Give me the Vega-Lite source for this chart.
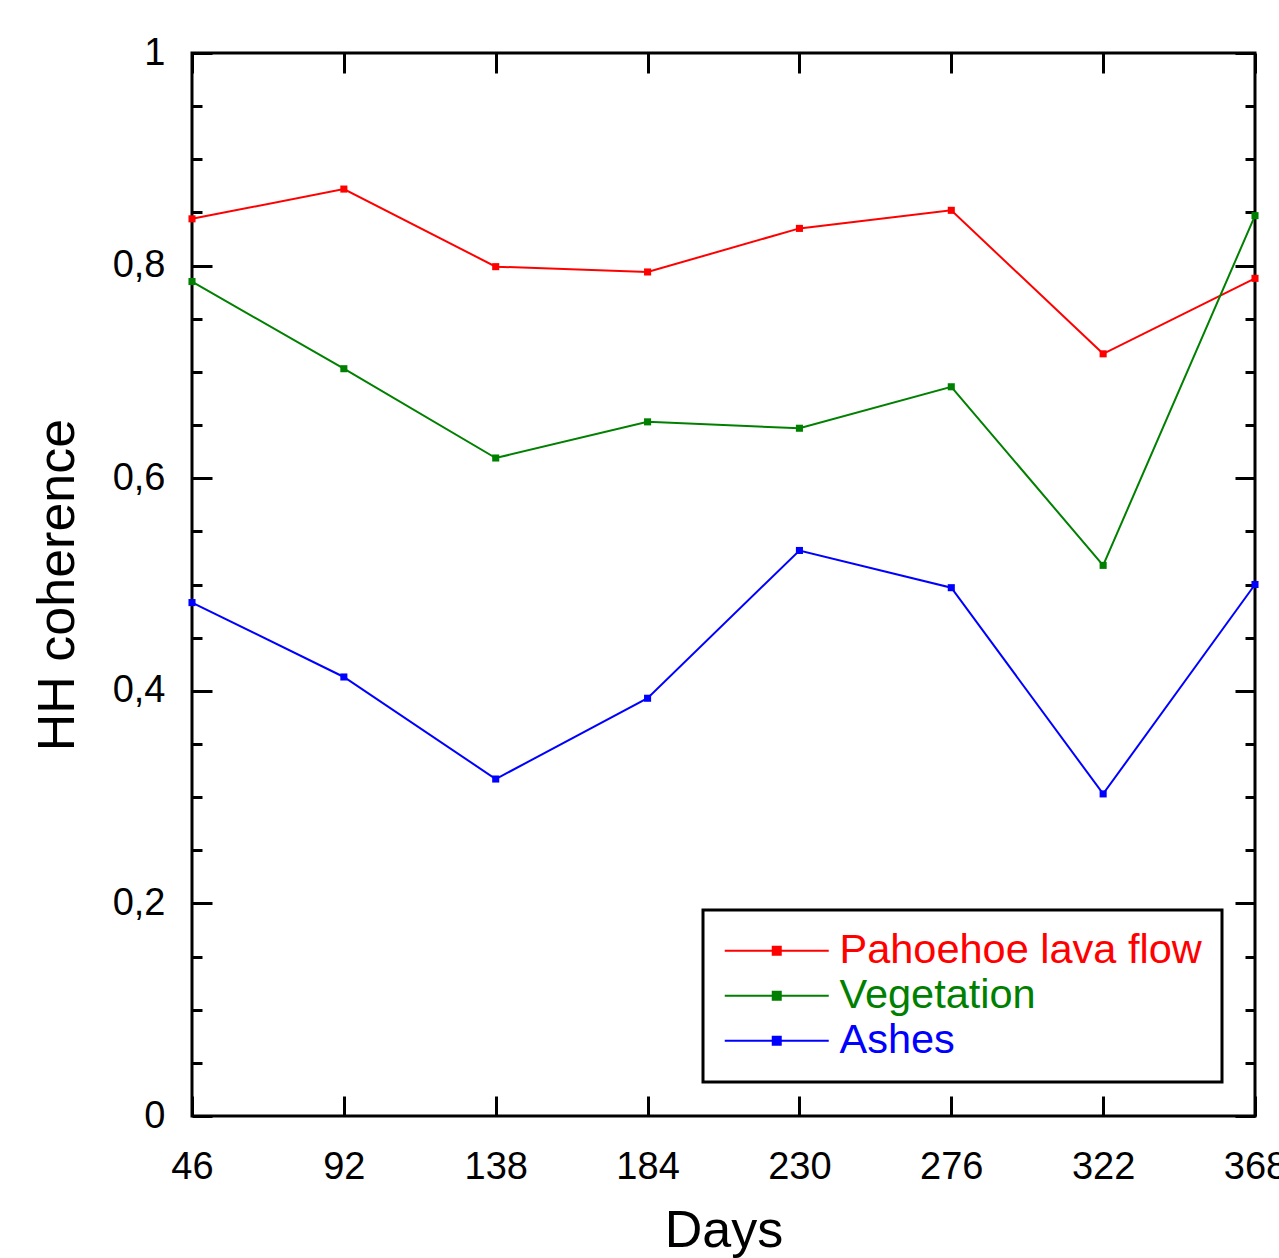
{
  "$schema": "https://vega.github.io/schema/vega-lite/v6.json",
  "width": 1063,
  "height": 1063,
  "autosize": {"type": "none"},
  "padding": {"left": 192, "top": 53, "right": 24, "bottom": 142},
  "background": "white",
  "config": {
    "view": {"stroke": "black", "strokeWidth": 3},
    "axis": {
      "grid": false,
      "domain": false,
      "tickColor": "black",
      "tickWidth": 3,
      "labelFont": "Liberation Sans",
      "labelFontSize": 38,
      "labelColor": "black",
      "labelFlush": false,
      "labelOverlap": false,
      "labelBound": false,
      "titleFont": "Liberation Sans",
      "titleFontSize": 52,
      "titleFontWeight": "normal",
      "titleColor": "black"
    }
  },
  "data": {
    "values": [
      {"day": 46, "coherence": 0.844, "series": "Pahoehoe lava flow"},
      {"day": 92, "coherence": 0.872, "series": "Pahoehoe lava flow"},
      {"day": 138, "coherence": 0.799, "series": "Pahoehoe lava flow"},
      {"day": 184, "coherence": 0.794, "series": "Pahoehoe lava flow"},
      {"day": 230, "coherence": 0.835, "series": "Pahoehoe lava flow"},
      {"day": 276, "coherence": 0.852, "series": "Pahoehoe lava flow"},
      {"day": 322, "coherence": 0.717, "series": "Pahoehoe lava flow"},
      {"day": 368, "coherence": 0.788, "series": "Pahoehoe lava flow"},
      {"day": 46, "coherence": 0.785, "series": "Vegetation"},
      {"day": 92, "coherence": 0.703, "series": "Vegetation"},
      {"day": 138, "coherence": 0.619, "series": "Vegetation"},
      {"day": 184, "coherence": 0.653, "series": "Vegetation"},
      {"day": 230, "coherence": 0.647, "series": "Vegetation"},
      {"day": 276, "coherence": 0.686, "series": "Vegetation"},
      {"day": 322, "coherence": 0.518, "series": "Vegetation"},
      {"day": 368, "coherence": 0.847, "series": "Vegetation"},
      {"day": 46, "coherence": 0.483, "series": "Ashes"},
      {"day": 92, "coherence": 0.413, "series": "Ashes"},
      {"day": 138, "coherence": 0.317, "series": "Ashes"},
      {"day": 184, "coherence": 0.393, "series": "Ashes"},
      {"day": 230, "coherence": 0.532, "series": "Ashes"},
      {"day": 276, "coherence": 0.497, "series": "Ashes"},
      {"day": 322, "coherence": 0.303, "series": "Ashes"},
      {"day": 368, "coherence": 0.500, "series": "Ashes"}
    ]
  },
  "layer": [
    {
      "mark": {"type": "line", "strokeWidth": 2, "point": {"filled": true, "shape": "square", "size": 50, "opacity": 1}},
      "encoding": {
        "x": {
          "field": "day", "type": "quantitative",
          "scale": {"domain": [46, 368], "nice": false, "zero": false},
          "axis": {"orient": "bottom", "values": [46, 92, 138, 184, 230, 276, 322, 368], "tickSize": -20, "labelPadding": 52, "title": "Days", "titlePadding": 19}
        },
        "y": {
          "field": "coherence", "type": "quantitative",
          "scale": {"domain": [0, 1], "nice": false, "zero": true},
          "axis": {
            "orient": "left",
            "values": [0, 0.05, 0.1, 0.15, 0.2, 0.25, 0.3, 0.35, 0.4, 0.45, 0.5, 0.55, 0.6, 0.65, 0.7, 0.75, 0.8, 0.85, 0.9, 0.95, 1],
            "tickSize": {"condition": {"test": "abs(datum.value*5 - round(datum.value*5)) < 0.000001", "value": -20}, "value": -10},
            "labelExpr": "abs(datum.value*5 - round(datum.value*5)) < 0.000001 ? (datum.value == 0 ? '0' : (datum.value == 1 ? '1' : replace(format(datum.value, '.1f'), '.', ','))) : ''",
            "labelPadding": 47,
            "title": "HH coherence",
            "titlePadding": 28
          }
        },
        "color": {
          "field": "series", "type": "nominal",
          "scale": {"domain": ["Pahoehoe lava flow", "Vegetation", "Ashes"], "range": ["#ff0000", "#008000", "#0000ff"]},
          "legend": {
            "orient": "none", "legendX": 511, "legendY": 857,
            "title": null,
            "strokeColor": "black", "fillColor": "white",
            "padding": 20,
            "symbolType": "M-1.9,0H8.5M2.9,-0.4H3.7V0.4H2.9Z",
            "symbolSize": 400,
            "symbolStrokeWidth": 2,
            "labelFont": "Liberation Sans",
            "labelFontSize": 41.5,
            "labelOffset": 75,
            "rowPadding": 2,
            "labelLimit": 600,
            "encode": {
              "legend": {"update": {"strokeWidth": {"value": 3}}},
              "labels": {"update": {"fill": {"scale": "color", "field": "value"}}},
              "symbols": {"update": {"fill": {"scale": "color", "field": "value"}, "stroke": {"scale": "color", "field": "value"}, "opacity": {"value": 1}}}
            }
          }
        }
      }
    },
    {
      "mark": {"type": "line", "strokeOpacity": 0},
      "encoding": {
        "x": {
          "field": "day", "type": "quantitative",
          "scale": {"domain": [46, 368], "nice": false, "zero": false},
          "axis": {"orient": "top", "values": [46, 92, 138, 184, 230, 276, 322, 368], "tickSize": -20, "labels": false, "title": null}
        },
        "y": {
          "field": "coherence", "type": "quantitative",
          "scale": {"domain": [0, 1], "nice": false, "zero": true},
          "axis": {
            "orient": "right",
            "values": [0, 0.05, 0.1, 0.15, 0.2, 0.25, 0.3, 0.35, 0.4, 0.45, 0.5, 0.55, 0.6, 0.65, 0.7, 0.75, 0.8, 0.85, 0.9, 0.95, 1],
            "tickSize": {"condition": {"test": "abs(datum.value*5 - round(datum.value*5)) < 0.000001", "value": -20}, "value": -10},
            "labels": false,
            "title": null
          }
        },
        "detail": {"field": "series", "type": "nominal"}
      }
    }
  ],
  "resolve": {"axis": {"x": "independent", "y": "independent"}}
}
